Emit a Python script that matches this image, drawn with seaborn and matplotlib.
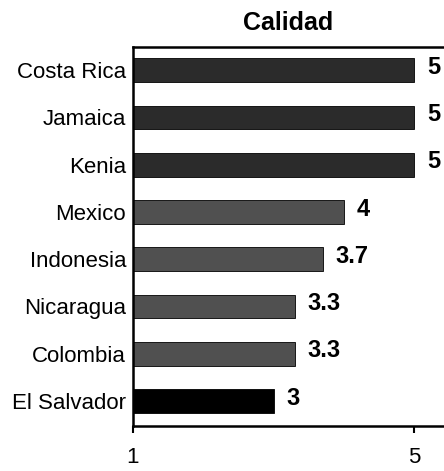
import pandas as pd
import matplotlib.pyplot as plt
import seaborn as sns

# --- data ---
countries = ['Costa Rica', 'Jamaica', 'Kenia', 'Mexico', 'Indonesia',
             'Nicaragua', 'Colombia', 'El Salvador']
scores = [5, 5, 5, 4, 3.7, 3.3, 3.3, 3]
value_labels = ['5', '5', '5', '4', '3.7', '3.3', '3.3', '3']
bar_colors = ['#2b2b2b', '#2b2b2b', '#2b2b2b', '#505050', '#505050',
              '#505050', '#505050', '#000000']

df = pd.DataFrame({'Pais': countries, 'Calidad': scores})

sns.set_style('white')
plt.rcParams['font.family'] = ['Liberation Sans', 'DejaVu Sans']
plt.rcParams['text.color'] = 'black'
plt.rcParams['xtick.color'] = 'black'
plt.rcParams['ytick.color'] = 'black'

fig = plt.figure(figsize=(4.44, 4.71), dpi=100)
ax = fig.add_axes([0.2995, 0.0955, 0.7005, 0.8045])

sns.barplot(data=df, x='Calidad', y='Pais', hue='Pais', palette=bar_colors,
            orient='h', width=0.5, legend=False, ax=ax,
            edgecolor='black', linewidth=0.6)

# value labels to the right of each bar
for i, (v, txt) in enumerate(zip(scores, value_labels)):
    ax.annotate(txt, xy=(v, i), xytext=(9, 2), textcoords='offset points',
                ha='left', va='center', fontsize=17, fontweight='bold')

ax.set_xlim(1, 5.42)
ax.set_ylim(7.53, -0.49)
ax.set_xticks([1, 5])
ax.set_xticklabels(['1', '5'])
ax.set_xlabel('')
ax.set_ylabel('')
ax.set_title('Calidad', fontsize=18, fontweight='bold', pad=12)

ax.tick_params(axis='x', length=5, width=1.5, direction='out', pad=10,
               labelsize=16, bottom=True)
ax.tick_params(axis='y', length=0, pad=5, labelsize=16)

for side in ['left', 'top', 'bottom']:
    ax.spines[side].set_visible(True)
    ax.spines[side].set_linewidth(1.8)
    ax.spines[side].set_color('black')
ax.spines['right'].set_visible(False)

fig.savefig('out.png', dpi=100)
